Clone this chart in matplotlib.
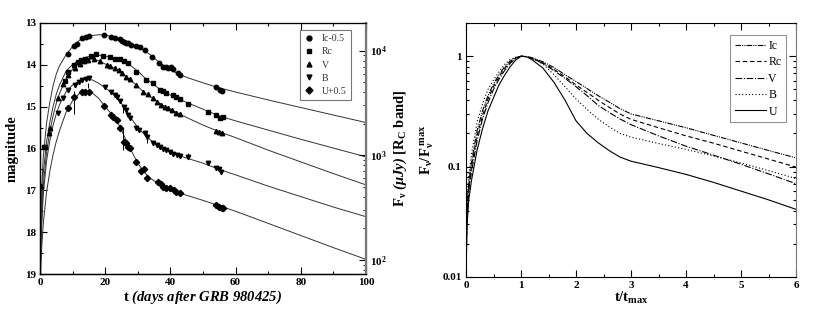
import matplotlib
matplotlib.use("Agg")
import matplotlib.pyplot as plt
from matplotlib.ticker import MultipleLocator, LogLocator, NullFormatter, FixedLocator

plt.rcParams['font.family'] = ['Liberation Serif', 'DejaVu Serif']
plt.rcParams['mathtext.fontset'] = 'custom'
plt.rcParams['mathtext.rm'] = 'Liberation Serif'
plt.rcParams['mathtext.it'] = 'Liberation Serif:italic'
plt.rcParams['mathtext.bf'] = 'Liberation Serif:bold'
plt.rcParams['mathtext.bfit'] = 'Liberation Serif:italic:bold'

# ---- left panel: model light curves (magnitude) ----
t_model = [0, 0.5, 1, 2, 3, 4, 5, 6, 8, 10, 12, 14, 16, 18, 20, 22, 24, 26, 28,
           30, 32, 34, 36, 38, 40, 42, 45, 50, 55, 60, 70, 80, 90, 100]
ic_model = [18.2, 17.0, 16.2, 15.4, 14.9, 14.5, 14.22, 14.02, 13.76, 13.56, 13.42,
            13.34, 13.3, 13.28, 13.29, 13.32, 13.37, 13.44, 13.51, 13.58, 13.66,
            13.77, 13.9, 14.02, 14.12, 14.2, 14.3, 14.43, 14.55, 14.65, 14.84,
            15.02, 15.2, 15.38]
rc_model = [18.6, 17.4, 16.6, 15.85, 15.38, 15.0, 14.7, 14.48, 14.15, 13.99, 13.89,
            13.82, 13.78, 13.77, 13.79, 13.83, 13.88, 13.94, 14.03, 14.15, 14.3,
            14.42, 14.54, 14.64, 14.72, 14.79, 14.9, 15.06, 15.22, 15.34, 15.56,
            15.78, 15.99, 16.2]
v_model = [18.9, 17.7, 16.9, 16.1, 15.6, 15.22, 14.92, 14.68, 14.33, 14.1, 13.96,
           13.88, 13.86, 13.9, 13.98, 14.05, 14.13, 14.25, 14.38, 14.52, 14.66,
           14.77, 14.88, 14.98, 15.06, 15.14, 15.26, 15.44, 15.6, 15.74, 16.04,
           16.32, 16.6, 16.87]
b_model = [19.0, 17.9, 17.1, 16.3, 15.82, 15.45, 15.17, 14.95, 14.64, 14.48, 14.39,
           14.34, 14.36, 14.44, 14.55, 14.67, 14.82, 15.03, 15.28, 15.5, 15.66,
           15.8, 15.92, 16.01, 16.09, 16.15, 16.23, 16.35, 16.5, 16.63, 16.9,
           17.15, 17.4, 17.63]
u_model = [19.3, 18.4, 17.8, 17.05, 16.55, 16.15, 15.83, 15.57, 15.13, 14.86, 14.69,
           14.62, 14.67, 14.8, 15.0, 15.18, 15.4, 15.73, 16.05, 16.35, 16.57,
           16.72, 16.82, 16.9, 16.97, 17.04, 17.12, 17.24, 17.37, 17.5, 17.79,
           18.08, 18.37, 18.65]

# ---- left panel: observed points ----
ic_t = [8.7, 10.5, 11.2, 13, 14, 15.1, 19.6, 21.9, 22.9, 24.5, 25.2, 25.7, 26.4, 27,
        28, 29.6, 30.6, 32.1, 34.5, 36.5, 37.8, 38.5, 39.3, 40.2, 40.8, 42.3, 42.9,
        54, 55.1, 55.9]
ic_m = [13.73, 13.55, 13.5, 13.37, 13.34, 13.31, 13.29, 13.34, 13.36, 13.39, 13.42,
        13.45, 13.47, 13.49, 13.52, 13.55, 13.57, 13.65, 13.82, 13.96, 14.04, 14.06,
        14.08, 14.04, 14.1, 14.2, 14.24, 14.54, 14.59, 14.62]
rc_t = [1.1, 1.6, 7.6, 8.6, 10.4, 11.6, 12.5, 13.7, 15.7, 17.3, 19.4, 21.4, 23, 24.5,
        25.7, 27, 29.6, 32.6, 34.7, 36.7, 37.8, 38.8, 40.8, 41.8, 42.9, 45.4, 51.5,
        54, 55.1, 56.1]
rc_m = [15.96, 15.96, 14.38, 14.18, 14.0, 13.93, 13.88, 13.85, 13.8, 13.73, 13.79,
        13.82, 13.86, 13.87, 13.9, 13.96, 14.16, 14.36, 14.44, 14.6, 14.63, 14.68,
        14.72, 14.76, 14.82, 14.94, 15.12, 15.2, 15.28, 15.24]
v_t = [0.3, 2.8, 3.1, 5.6, 7.1, 8.7, 10.7, 12.3, 13.5, 14.8, 16.5, 18.4, 20.4, 21.6,
       23, 24.2, 25, 26.5, 27.6, 29.6, 31.6, 33, 34.7, 36, 37.2, 38.3, 39.3, 40.5,
       41.8, 42.9, 54, 55, 55.9]
v_m = [16.9, 15.62, 15.52, 14.8, 14.45, 14.24, 14.08, 13.98, 13.92, 13.88, 13.86,
       13.92, 14.0, 14.03, 14.08, 14.13, 14.19, 14.28, 14.34, 14.48, 14.64, 14.7,
       14.8, 14.88, 14.96, 15.0, 15.04, 15.08, 15.14, 15.18, 15.57, 15.6, 15.62]
b_t = [5.5, 7.2, 8.7, 10.7, 12, 13, 14, 15.1, 19.9, 21.9, 23, 23.5, 24.5, 25.7, 26.3,
       27, 27.5, 29.6, 30.3, 32.1, 32.7, 34.7, 35.8, 36.7, 37.8, 38.8, 39.8, 40.8,
       42, 42.9, 45.4, 51.5, 54, 54.8, 55.6]
b_m = [15.15, 14.8, 14.6, 14.48, 14.42, 14.36, 14.34, 14.32, 14.54, 14.64, 14.72,
       14.76, 14.86, 15.0, 15.08, 15.2, 15.26, 15.52, 15.55, 15.64, 15.72, 15.88,
       15.92, 15.96, 16.0, 16.04, 16.08, 16.12, 16.16, 16.18, 16.2, 16.35, 16.47,
       16.5, 16.55]
u_t = [8.7, 10.4, 12.8, 13.8, 15.1, 19.6, 21.9, 22.5, 23.5, 24.5, 25.7, 26.3, 27,
       27.6, 29.6, 31.1, 32, 32.7, 36.2, 37, 37.8, 38.8, 39.8, 41.2, 41.8, 42.9, 54,
       54.8, 55.9, 56.2]
u_m = [15.04, 14.76, 14.64, 14.64, 14.64, 14.98, 15.2, 15.25, 15.32, 15.52, 15.84,
       15.88, 15.96, 15.98, 16.33, 16.53, 16.5, 16.71, 16.79, 16.85, 16.91, 16.94,
       16.95, 17.0, 17.03, 17.07, 17.35, 17.4, 17.43, 17.42]

# a few points with visible error bars (t, mag, err)
err_t = [25.6, 32.7, 10.4, 25.5, 14.8, 45.4]
err_m = [15.78, 15.75, 14.9, 15.05, 14.5, 16.18]
err_e = [0.26, 0.12, 0.28, 0.1, 0.06, 0.08]

bands = ["Ic-0.5", "Rc", "V", "B", "U+0.5"]
markers = ["o", "s", "^", "v", "D"]

# ---- right panel: normalised curves ----
t_norm = [0, 0.02, 0.05, 0.1, 0.2, 0.3, 0.4, 0.5, 0.6, 0.7, 0.8, 0.9, 1.0, 1.1, 1.2,
          1.4, 1.6, 1.8, 2.0, 2.2, 2.4, 2.6, 2.8, 3.0, 3.5, 4, 4.5, 5, 5.5, 6]
ic_norm = [0.02, 0.045, 0.07, 0.11, 0.21, 0.32, 0.44, 0.56, 0.68, 0.8, 0.9, 0.97, 1.0,
           0.995, 0.97, 0.89, 0.79, 0.68, 0.59, 0.51, 0.44, 0.385, 0.335, 0.3, 0.26,
           0.225, 0.192, 0.164, 0.14, 0.12]
rc_norm = [0.015, 0.04, 0.065, 0.1, 0.19, 0.29, 0.41, 0.53, 0.65, 0.77, 0.88, 0.96,
           1.0, 0.99, 0.96, 0.87, 0.76, 0.65, 0.55, 0.47, 0.4, 0.345, 0.3, 0.268,
           0.225, 0.19, 0.163, 0.138, 0.117, 0.099]
v_norm = [0.012, 0.035, 0.06, 0.09, 0.17, 0.27, 0.38, 0.5, 0.62, 0.74, 0.86, 0.95,
          1.0, 0.99, 0.955, 0.86, 0.74, 0.63, 0.53, 0.44, 0.36, 0.31, 0.27, 0.24,
          0.19, 0.153, 0.127, 0.105, 0.086, 0.07]
b_norm = [0.02, 0.05, 0.08, 0.13, 0.25, 0.37, 0.5, 0.61, 0.72, 0.84, 0.93, 0.98, 1.0,
          0.99, 0.96, 0.85, 0.68, 0.53, 0.41, 0.33, 0.27, 0.23, 0.2, 0.185, 0.162,
          0.143, 0.125, 0.108, 0.092, 0.078]
u_norm = [0.01, 0.03, 0.05, 0.075, 0.14, 0.22, 0.32, 0.42, 0.55, 0.67, 0.8, 0.92, 1.0,
          0.99, 0.93, 0.78, 0.58, 0.4, 0.26, 0.2, 0.165, 0.14, 0.122, 0.112, 0.098,
          0.085, 0.072, 0.06, 0.05, 0.041]
norm_labels = ["Ic", "Rc", "V", "B", "U"]
norm_styles = [(0, (5, 1, 1, 1, 1, 1)), (0, (4, 2.5)), (0, (6, 1.5, 1, 1.5)),
               (0, (1, 2)), "-"]


def style_ticks(ax):
    ax.tick_params(which="both", direction="in", top=True, labelsize=8,
                   width=0.8, pad=3)
    ax.tick_params(which="major", length=5)
    ax.tick_params(which="minor", length=2.5)
    for lab in ax.get_xticklabels() + ax.get_yticklabels():
        lab.set_fontweight("bold")


def light_curves(fig):
    ax = fig.add_axes([40 / 830, 45 / 319, 326 / 830, 251 / 319])
    models = [ic_model, rc_model, v_model, b_model, u_model]
    data = [(ic_t, ic_m), (rc_t, rc_m), (v_t, v_m), (b_t, b_m), (u_t, u_m)]
    for mod in models:
        ax.plot(t_model, mod, color="#333333", lw=0.7)
    for (tt, mm), mk, lab in zip(data, markers, bands):
        ax.plot(tt, mm, linestyle="none", marker=mk, ms=3.2, color="black",
                label=lab)
    ax.errorbar(err_t, err_m, yerr=err_e, fmt="none", ecolor="black", lw=0.7,
                capsize=0)
    ax.set_xlim(0, 100)
    ax.set_ylim(19, 13)
    ax.xaxis.set_major_locator(MultipleLocator(20))
    ax.xaxis.set_minor_locator(MultipleLocator(10))
    ax.yaxis.set_major_locator(MultipleLocator(1))
    ax.yaxis.set_minor_locator(MultipleLocator(0.5))
    style_ticks(ax)
    ax.tick_params(right=False, which="both")
    ax.set_xlabel(r"t $\mathbfit{(days\ after\ GRB\ 980425)}$", fontsize=10.5,
                  fontweight="bold", labelpad=1)
    ax.set_ylabel("magnitude", fontsize=10.5, fontweight="bold", labelpad=4)
    leg = ax.legend(loc="upper right", bbox_to_anchor=(0.954, 0.972), fontsize=7,
                    frameon=True, fancybox=False, edgecolor="#555555",
                    handlelength=1.0, handletextpad=0.8, borderpad=0.45,
                    labelspacing=0.42, borderaxespad=0, markerscale=1.1)
    leg.get_frame().set_linewidth(0.8)
    for txt in leg.get_texts():
        txt.set_color("#333333")

    # flux axis on the right: m = 23.66 - 2.5 log10(F)
    ax2 = ax.twinx()
    ax2.set_yscale("log")
    ax2.set_ylim(10 ** ((23.66 - 19) / 2.5), 10 ** ((23.66 - 13) / 2.5))
    ax2.yaxis.set_major_locator(LogLocator(base=10, numticks=10))
    ax2.yaxis.set_minor_locator(LogLocator(base=10, subs=range(2, 10), numticks=20))
    ax2.yaxis.set_minor_formatter(NullFormatter())
    ax2.tick_params(which="both", direction="in", labelsize=8, pad=3)
    ax2.tick_params(which="major", length=5)
    ax2.tick_params(which="minor", length=2.5)
    for lab in ax2.get_yticklabels():
        lab.set_fontweight("bold")
    ax2.spines["right"].set_color("#777777")
    ax2.spines["right"].set_linewidth(1.6)
    ax2.set_ylabel(r"$\mathbf{F_\nu}$ $\mathbfit{(\mu Jy)}$ [R$_\mathbf{C}$ band]",
                   fontsize=10.5, fontweight="bold", labelpad=3)
    for sp in ["left", "bottom", "top"]:
        ax.spines[sp].set_linewidth(1.0)
    ax.spines["top"].set_color("#777777")


def normalised(fig):
    ax = fig.add_axes([466 / 830, 42 / 319, 330 / 830, 254 / 319])
    curves = [ic_norm, rc_norm, v_norm, b_norm, u_norm]
    for yy, ls, lab in zip(curves, norm_styles, norm_labels):
        ax.plot(t_norm, yy, color="black", lw=0.8, linestyle=ls, label=lab)
    ax.set_yscale("log")
    ax.set_xlim(0, 6)
    ax.set_ylim(0.01, 2.0)
    ax.xaxis.set_major_locator(MultipleLocator(1))
    ax.xaxis.set_minor_locator(MultipleLocator(0.5))
    ax.yaxis.set_major_locator(FixedLocator([0.01, 0.1, 1]))
    ax.yaxis.set_minor_locator(LogLocator(base=10, subs=range(2, 10), numticks=20))
    ax.yaxis.set_minor_formatter(NullFormatter())
    ax.set_yticklabels(["0.01", "0.1", "1"])
    style_ticks(ax)
    ax.tick_params(right=True, which="both")
    ax.set_xlabel(r"$\mathbf{t/t_{max}}$", fontsize=10.5, labelpad=0)
    ax.set_ylabel(r"$\mathbf{F_\nu/F_\nu^{\ max}}$", fontsize=10.5, labelpad=5)
    leg = ax.legend(loc="upper right", bbox_to_anchor=(0.97, 0.953), fontsize=8.5,
                    frameon=True, fancybox=False, edgecolor="#777777",
                    handlelength=2.6, handletextpad=0.2, borderpad=0.4,
                    labelspacing=0.38, borderaxespad=0)
    leg.get_frame().set_linewidth(0.8)
    ax.spines["right"].set_color("#777777")


def main():
    fig = plt.figure(figsize=(8.3, 3.19), dpi=100)
    light_curves(fig)
    normalised(fig)
    fig.savefig("out.png", dpi=100)


if __name__ == "__main__":
    main()
